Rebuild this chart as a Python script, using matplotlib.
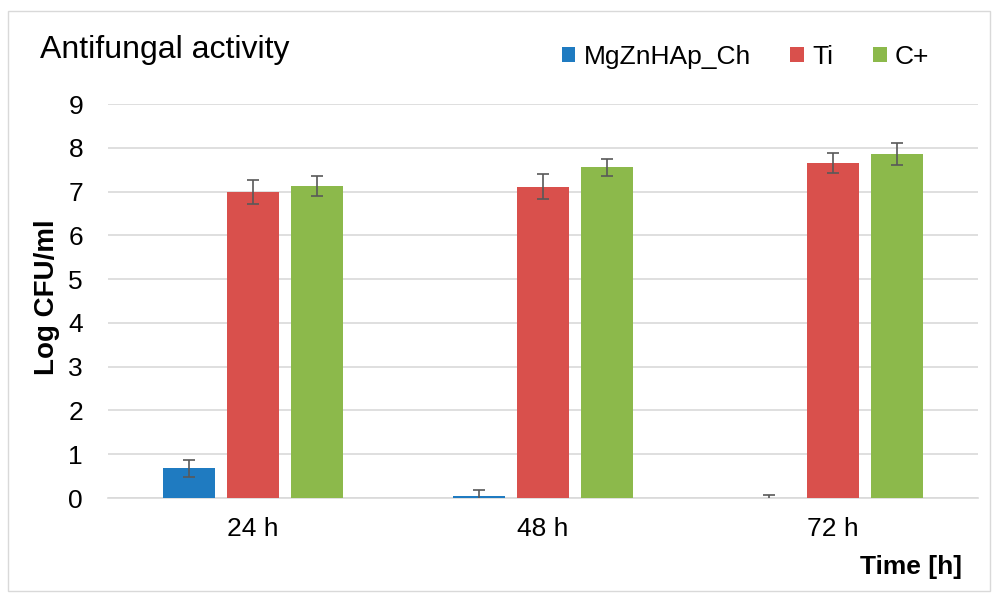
import matplotlib
matplotlib.use("Agg")
import matplotlib.pyplot as plt
import numpy as np
from matplotlib.patches import Rectangle

categories = ["24 h", "48 h", "72 h"]
series_names = ["MgZnHAp_Ch", "Ti", "C+"]
mgzn_vals = [0.68, 0.05, 0.0]
mgzn_err = [0.19, 0.13, 0.07]
ti_vals = [6.99, 7.11, 7.66]
ti_err = [0.27, 0.28, 0.23]
cplus_vals = [7.13, 7.55, 7.85]
cplus_err = [0.23, 0.19, 0.25]
colors = ["#1F7BC1", "#D9504C", "#8CB94B"]

plt.rcParams['font.family'] = ['Liberation Sans', 'DejaVu Sans']

fig = plt.figure(figsize=(9.93, 5.95), dpi=100)
ax = fig.add_axes([108/993, 1-498/595, (978-108)/993, (498-104)/595])

x = np.arange(len(categories))
w = 0.18
step = 0.22
for i, (vals, errs) in enumerate([(mgzn_vals, mgzn_err), (ti_vals, ti_err), (cplus_vals, cplus_err)]):
    ax.bar(x + (i-1)*step, vals, width=w, color=colors[i], label=series_names[i], zorder=3,
           yerr=errs, error_kw=dict(ecolor="#595959", elinewidth=1.2, capsize=4, capthick=1.2, zorder=4))

ax.set_ylim(0, 9)
ax.set_xlim(-0.5, 2.5)
ax.set_yticks(range(0, 10))
ax.set_xticks(x)
ax.set_xticklabels(categories)
ax.tick_params(axis='both', length=0, labelsize=19)
ax.tick_params(axis='x', pad=14)
ax.tick_params(axis='y', pad=18)
ax.yaxis.grid(True, color="#D9D9D9", linewidth=1.2, zorder=0)
ax.set_axisbelow(True)
for s in ["top", "right", "left"]:
    ax.spines[s].set_visible(False)
ax.spines["bottom"].set_color("#D9D9D9")
ax.spines["bottom"].set_linewidth(1.2)
ax.set_ylabel("Log CFU/ml", fontsize=20, fontweight="bold")
ax.yaxis.set_label_coords(60/993, 1-297/595, transform=fig.transFigure)

fig.text(40/993, 1-58/595, "Antifungal activity", fontsize=23, va="baseline", ha="left")
fig.text(962/993, 1-567/595, "Time [h]", fontsize=19, fontweight="bold", va="center", ha="right")

leg = ax.legend(loc="center right", bbox_to_anchor=(929/993, 1-57/595), bbox_transform=fig.transFigure,
                ncol=3, frameon=False, fontsize=19, handlelength=0.53, handleheight=0.53,
                handletextpad=0.3, columnspacing=1.5, borderpad=0, borderaxespad=0)

fig.patches.append(Rectangle((8/993, 4/595), (990-8)/993, (584-4)/595, transform=fig.transFigure,
                             fill=False, edgecolor="#D9D9D9", linewidth=1.0))

fig.savefig("out.png", dpi=100)
